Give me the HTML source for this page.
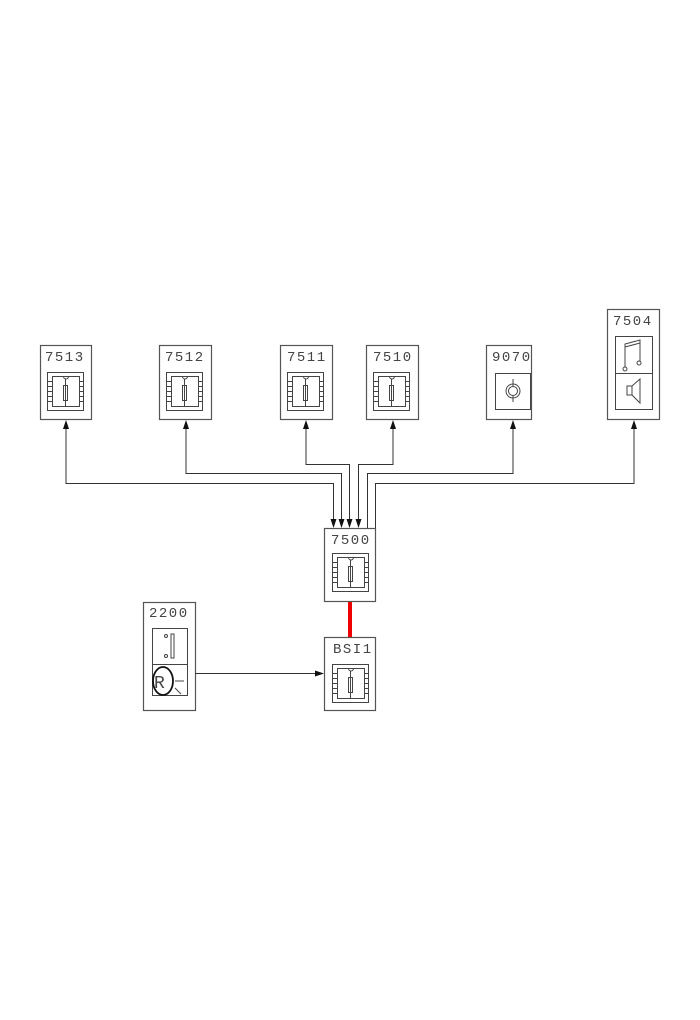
<!DOCTYPE html>
<html><head><meta charset="utf-8"><style>
html,body{margin:0;padding:0;background:#fff;}
svg{display:block;}
text{font-family:"Liberation Mono","DejaVu Sans Mono",monospace;font-size:14px;fill:#444;letter-spacing:1.5px;}
</style></head><body>
<svg width="700" height="1020" viewBox="0 0 700 1020" xmlns="http://www.w3.org/2000/svg">
<defs>
<g id="chip" fill="none" stroke="#444" stroke-width="1">
  <rect x="0" y="0" width="36" height="38"/>
  <rect x="5" y="4" width="27" height="30"/>
  <path d="M16 4 a2.5 2.5 0 0 0 5 0"/>
  <rect x="16" y="13" width="4" height="15"/>
  <line x1="18" y1="6" x2="18" y2="34"/>
  <path d="M0 9h5M0 14h5M0 19h5M0 24h5M0 29h5M32 9h4M32 14h4M32 19h4M32 24h4M32 29h4"/>
</g>
</defs>
<g fill="none" stroke="#555" stroke-width="1.2">
  <rect x="40.5" y="345.5" width="51" height="74"/>
  <rect x="159.5" y="345.5" width="52" height="74"/>
  <rect x="280.5" y="345.5" width="52" height="74"/>
  <rect x="366.5" y="345.5" width="52" height="74"/>
  <rect x="486.5" y="345.5" width="45" height="74"/>
  <rect x="607.5" y="309.5" width="52" height="110"/>
  <rect x="324.5" y="528.5" width="51" height="73"/>
  <rect x="324.5" y="637.5" width="51" height="73"/>
  <rect x="143.5" y="602.5" width="52" height="108"/>
</g>
<text x="45" y="361">7513</text>
<text x="165" y="361">7512</text>
<text x="287" y="361">7511</text>
<text x="373" y="361">7510</text>
<text x="492" y="361">9070</text>
<text x="613" y="325">7504</text>
<text x="331" y="544">7500</text>
<text x="333" y="653">BSI1</text>
<text x="149" y="617">2200</text>
<use href="#chip" x="47.5" y="372.5"/>
<use href="#chip" x="166.5" y="372.5"/>
<use href="#chip" x="287.5" y="372.5"/>
<use href="#chip" x="373.5" y="372.5"/>
<use href="#chip" x="332.5" y="553.5"/>
<use href="#chip" x="332.5" y="664.5"/>
<g fill="none" stroke="#444" stroke-width="1">
  <rect x="495.5" y="373.5" width="35" height="36"/>
  <circle cx="513" cy="391" r="7"/>
  <circle cx="513" cy="391" r="4.5"/>
  <line x1="513" y1="379" x2="513" y2="386"/><line x1="513" y1="396" x2="513" y2="402"/>
  <rect x="615.5" y="336.5" width="37" height="73"/>
  <line x1="615" y1="373.5" x2="652" y2="373.5"/>
  <path d="M625 367 V344 L640 340 V361"/><line x1="625" y1="347" x2="640" y2="343"/>
  <circle cx="625" cy="369" r="2"/><circle cx="639" cy="363" r="2"/>
  <rect x="627" y="386" width="5" height="9"/><path d="M632 386 L640 379 V403 L632 395"/>
  <rect x="152.5" y="628.5" width="35" height="67"/>
  <line x1="152" y1="664.5" x2="187" y2="664.5"/>
  <rect x="171" y="634" width="3" height="24"/>
  <circle cx="166" cy="636" r="1.5"/><circle cx="166" cy="656" r="1.5"/>
  <ellipse cx="163" cy="681" rx="10" ry="14" stroke-width="1.8" stroke="#111"/>
  <line x1="175" y1="681" x2="184" y2="681"/><line x1="175" y1="688" x2="181" y2="694"/>
</g>
<text x="154" y="688" style="font-size:18px;letter-spacing:0">R</text>
<g fill="none" stroke="#333" stroke-width="1">
  <path d="M66 426 V483.5 H333.5 V520"/>
  <path d="M186 426 V473.5 H341.5 V520"/>
  <path d="M306 426 V464.5 H349.5 V520"/>
  <path d="M393 426 V464.5 H358.5 V520"/>
  <path d="M513 426 V473.5 H367.5 V528"/>
  <path d="M634 426 V483.5 H375.5 V528"/>
  <path d="M195 673.5 H318"/>
</g>
<g fill="#111">
  <path d="M66 420 l-3 9 h6z"/><path d="M186 420 l-3 9 h6z"/><path d="M306 420 l-3 9 h6z"/>
  <path d="M393 420 l-3 9 h6z"/><path d="M513 420 l-3 9 h6z"/><path d="M634 420 l-3 9 h6z"/>
  <path d="M333.5 528 l-3 -9 h6z"/><path d="M341.5 528 l-3 -9 h6z"/><path d="M349.5 528 l-3 -9 h6z"/><path d="M358.5 528 l-3 -9 h6z"/>
  <path d="M324 673.5 l-9 -3 v6z"/>
</g>
<line x1="350" y1="602" x2="350" y2="637" stroke="#e00" stroke-width="4"/>
</svg>
</body></html>
